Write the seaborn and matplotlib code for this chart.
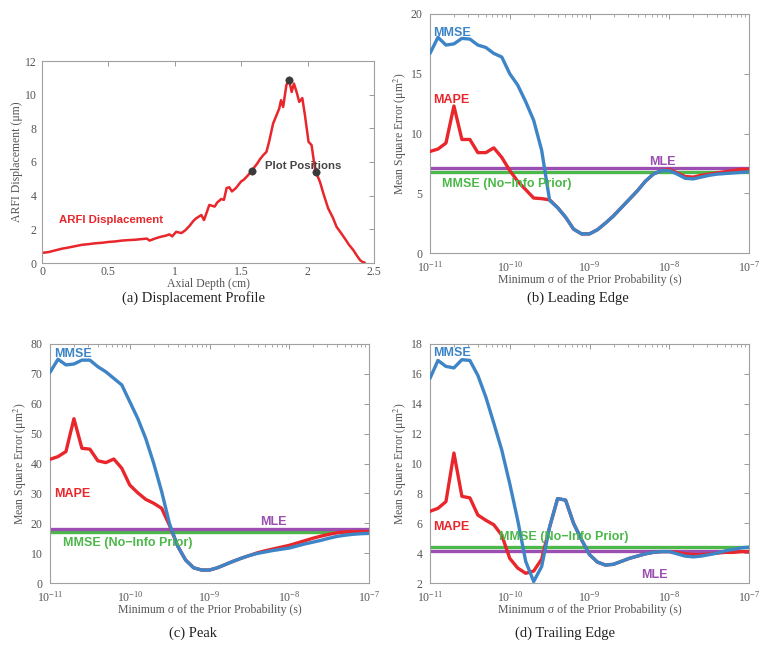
import numpy as np
import pandas as pd
import matplotlib
matplotlib.use("Agg")
import matplotlib.pyplot as plt
import seaborn as sns

# ---------------- data ----------------
# (a) displacement profile
depth_cm = [0.0, 0.05, 0.1, 0.15, 0.2, 0.25, 0.3, 0.35, 0.4, 0.45,
            0.5, 0.55, 0.6, 0.65, 0.7, 0.75, 0.79, 0.81, 0.85, 0.89,
            0.93, 0.96, 0.98, 1.01, 1.05, 1.08, 1.11, 1.14, 1.16, 1.2,
            1.22, 1.24, 1.26, 1.30, 1.32, 1.35, 1.37, 1.39, 1.41, 1.43,
            1.46, 1.50, 1.52, 1.55, 1.58, 1.60, 1.62, 1.64, 1.665, 1.69,
            1.71, 1.74, 1.766, 1.786, 1.80, 1.816, 1.84, 1.86, 1.88, 1.897,
            1.917, 1.937, 1.96, 1.98, 2.007, 2.03, 2.055, 2.063, 2.093, 2.12,
            2.155, 2.19, 2.218, 2.25, 2.28, 2.31, 2.344, 2.37, 2.394, 2.41,
            2.43]
displacement_um = [0.6, 0.65, 0.75, 0.85, 0.92, 1.0, 1.08, 1.12, 1.17, 1.2,
                   1.25, 1.28, 1.33, 1.36, 1.38, 1.42, 1.45, 1.33, 1.45, 1.55,
                   1.62, 1.7, 1.58, 1.85, 1.78, 1.95, 2.2, 2.5, 2.65, 2.85,
                   2.55, 3.0, 3.45, 3.35, 3.6, 3.8, 3.75, 4.45, 4.5, 4.25,
                   4.45, 4.85, 4.95, 5.2, 5.48, 5.7, 5.9, 6.15, 6.4, 6.6,
                   7.2, 8.28, 8.78, 9.17, 9.67, 9.27, 10.56, 10.9, 10.16, 10.66,
                   10.16, 9.57, 9.8, 8.78, 7.2, 7.0, 5.62, 5.4, 4.82, 4.1,
                   3.24, 2.7, 2.15, 1.8, 1.46, 1.1, 0.77, 0.45, 0.18, 0.08,
                   0.02]
plot_pos_depth = [1.583, 1.86, 2.065]
plot_pos_disp = [5.48, 10.9, 5.4]

# sigma grid exponents (10 per decade, 1e-11 .. 1e-7)
sigma_exp = [-11.0 + 0.1 * k for k in range(41)]

# (b) leading edge
lead_mmse = [16.7, 18.05, 17.4, 17.5, 17.96, 17.9, 17.4, 17.2, 16.7, 16.4,
             15.0, 14.05, 12.66, 11.1, 8.6, 4.4, 3.8, 3.0, 2.0, 1.6,
             1.6, 1.95, 2.5, 3.1, 3.8, 4.5, 5.2, 6.0, 6.6, 6.9,
             6.9, 6.6, 6.25, 6.2, 6.35, 6.5, 6.6, 6.65, 6.7, 6.75, 6.8]
lead_mape = [8.5, 8.7, 9.2, 12.3, 9.5, 9.5, 8.4, 8.4, 8.8, 8.0,
             6.9, 6.0, 5.3, 4.6, 4.55, 4.45, 3.8, 3.0, 2.0, 1.6,
             1.6, 1.95, 2.5, 3.1, 3.8, 4.5, 5.2, 6.0, 6.6, 6.9,
             7.0, 6.7, 6.4, 6.35, 6.5, 6.6, 6.7, 6.8, 6.9, 7.0, 7.0]
lead_mle = 7.12
lead_noinfo = 6.8

# (c) peak
peak_mmse = [70.5, 74.9, 73.0, 73.3, 74.6, 74.6, 72.4, 70.7, 68.5, 66.3,
             60.7, 55.1, 48.4, 40.1, 30.6, 19.7, 12.4, 7.7, 5.1, 4.35,
             4.35, 5.1, 6.2, 7.3, 8.3, 9.2, 9.9, 10.4, 10.9, 11.3,
             11.7, 12.4, 13.1, 13.7, 14.3, 15.0, 15.6, 16.0, 16.3, 16.5, 16.6]
peak_mape = [41.4, 42.3, 44.0, 55.0, 45.1, 44.8, 40.9, 40.3, 41.5, 38.4,
             32.8, 30.2, 28.0, 26.7, 25.0, 19.2, 12.4, 7.7, 5.1, 4.35,
             4.35, 5.1, 6.2, 7.3, 8.3, 9.2, 10.1, 10.8, 11.4, 12.0,
             12.6, 13.4, 14.2, 15.0, 15.7, 16.3, 16.8, 17.1, 17.2, 17.2, 17.2]
peak_mle = 18.2
peak_noinfo = 17.0

# (d) trailing edge
trail_mmse = [15.7, 16.9, 16.5, 16.4, 16.95, 16.9, 15.9, 14.45, 12.7, 10.9,
              8.65, 6.2, 3.45, 2.1, 3.1, 5.75, 7.65, 7.55, 6.0, 4.9,
              3.9, 3.4, 3.2, 3.25, 3.45, 3.65, 3.8, 3.95, 4.05, 4.1,
              4.1, 3.95, 3.8, 3.75, 3.8, 3.9, 4.0, 4.15, 4.25, 4.35, 4.4]
trail_mape = [6.8, 7.0, 7.45, 10.7, 7.8, 7.7, 6.55, 6.2, 5.9, 5.2,
              3.65, 3.0, 2.65, 2.8, 3.6, 5.75, 7.65, 7.55, 6.0, 4.9,
              3.9, 3.4, 3.2, 3.25, 3.45, 3.65, 3.8, 3.95, 4.05, 4.1,
              4.1, 4.05, 3.95, 3.9, 3.9, 3.95, 4.0, 4.05, 4.05, 4.1, 4.1]
trail_mle = 4.16
trail_noinfo = 4.41

# ---------------- style ----------------
sns.set_style("white")
plt.rcParams['font.family'] = ['Liberation Serif', 'DejaVu Serif']
plt.rcParams['mathtext.fontset'] = 'stix'

BLUE = '#3d85c6'
RED = '#e8262b'
PURPLE = '#9b4fb3'
GREEN = '#4cb84a'
DOT = '#3a3a3a'
TXT = '#555555'
SPINE = '#a0a0a0'
SANS = ['Liberation Sans', 'DejaVu Sans']

W, H = 761, 646
fig = plt.figure(figsize=(W / 100, H / 100), dpi=100)


def px_axes(l, t, r, b):
    return fig.add_axes([l / W, 1 - b / H, (r - l) / W, (b - t) / H])


def style_axes(ax, size=9):
    for s in ax.spines.values():
        s.set_color(SPINE)
        s.set_linewidth(0.8)
    ax.tick_params(which='major', direction='in', top=True, right=True,
                   length=3.5, width=0.6, color='#888888',
                   labelcolor=TXT, labelsize=size, pad=4)
    ax.tick_params(which='minor', direction='in', top=True, right=True,
                   length=1.8, width=0.5, color='#888888')


# ---------- (a) ----------
axa = px_axes(42, 61, 374, 263)
dfa = pd.DataFrame({'depth': depth_cm, 'disp': displacement_um})
sns.lineplot(data=dfa, x='depth', y='disp', ax=axa, color=RED, lw=1.8,
             estimator=None, sort=False)
sns.scatterplot(x=plot_pos_depth, y=plot_pos_disp, ax=axa, color=DOT, s=28,
                edgecolor=DOT, zorder=5)
axa.set_xlim(0, 2.5)
axa.set_ylim(0, 12)
axa.set_xticks([0, 0.5, 1, 1.5, 2, 2.5])
axa.set_xticklabels(['0', '0.5', '1', '1.5', '2', '2.5'])
axa.set_yticks([0, 2, 4, 6, 8, 10, 12])
style_axes(axa, size=8.5)
axa.tick_params(axis='x', pad=2)
axa.set_xlabel('Axial Depth (cm)', fontsize=8.5, color=TXT, labelpad=0)
axa.set_ylabel('ARFI Displacement (μm)', fontsize=8.5, color=TXT, labelpad=1)
axa.text(0.13, 2.55, 'ARFI Displacement', color=RED, fontsize=8.2,
         fontweight='bold', family=SANS, va='center', ha='left')
axa.text(1.68, 5.75, 'Plot Positions', color='#444444', fontsize=8.2,
         fontweight='bold', family=SANS, va='center', ha='left')


def mse_panel(ax, mmse, mape, mle, noinfo, ylim, yticks, labels):
    xs = [10 ** e for e in sigma_exp]
    df = pd.DataFrame({'sigma': xs * 2,
                       'mse': list(mape) + list(mmse),
                       'method': ['MAPE'] * len(xs) + ['MMSE'] * len(xs)})
    ax.axhline(noinfo, color=GREEN, lw=2.4, zorder=1)
    ax.axhline(mle, color=PURPLE, lw=2.4, zorder=1)
    sns.lineplot(data=df, x='sigma', y='mse', hue='method',
                 palette={'MAPE': RED, 'MMSE': BLUE}, hue_order=['MAPE', 'MMSE'],
                 lw=2.4, estimator=None, sort=False, ax=ax, legend=False,
                 zorder=3)
    ax.set_xscale('log')
    ax.set_xlim(1e-11, 1e-7)
    ax.set_ylim(*ylim)
    ax.set_yticks(yticks)
    ax.set_xticks([1e-11, 1e-10, 1e-9, 1e-8, 1e-7])
    style_axes(ax, size=8.5)
    ax.tick_params(axis='x', pad=5)
    ax.tick_params(axis='y', pad=5.5)
    ax.set_xlabel('Minimum σ of the Prior Probability (s)', fontsize=8.5,
                  color=TXT, labelpad=-0.5)
    ax.set_ylabel('Mean Square Error (μm$^2$)', fontsize=8.5, color=TXT,
                  labelpad=1)
    colors = {'MMSE': BLUE, 'MAPE': RED, 'MLE': PURPLE, 'NOINFO': GREEN}
    texts = {'MMSE': 'MMSE', 'MAPE': 'MAPE', 'MLE': 'MLE',
             'NOINFO': 'MMSE (No\u2212Info Prior)'}
    for key, (xe, yv) in labels.items():
        ax.text(10 ** xe, yv, texts[key], color=colors[key], fontsize=9,
                fontweight='bold', family=SANS, va='center', ha='left',
                zorder=6)


axb = px_axes(430, 14, 749, 253)
mse_panel(axb, lead_mmse, lead_mape, lead_mle, lead_noinfo, (0, 20),
          [0, 5, 10, 15, 20],
          {'MMSE': (-10.96, 18.45), 'MAPE': (-10.955, 12.8),
           'MLE': (-8.255, 7.6), 'NOINFO': (-10.853, 5.77)})

axc = px_axes(50, 344, 369, 583)
mse_panel(axc, peak_mmse, peak_mape, peak_mle, peak_noinfo, (0, 80),
          list(range(0, 81, 10)),
          {'MMSE': (-10.95, 76.6), 'MAPE': (-10.95, 29.8),
           'MLE': (-8.37, 20.5), 'NOINFO': (-10.84, 13.3)})

axd = px_axes(430, 344, 749, 583)
mse_panel(axd, trail_mmse, trail_mape, trail_mle, trail_noinfo, (2, 18),
          list(range(2, 19, 2)),
          {'MMSE': (-10.96, 17.4), 'MAPE': (-10.965, 5.73),
           'MLE': (-8.35, 2.55), 'NOINFO': (-10.13, 5.06)})

# captions
cap_kw = dict(fontsize=10.5, color='#222222', ha='center', va='center')
fig.text(193 / W, 1 - 298 / H, '(a) Displacement Profile', **cap_kw)
fig.text(578 / W, 1 - 298 / H, '(b) Leading Edge', **cap_kw)
fig.text(193 / W, 1 - 633 / H, '(c) Peak', **cap_kw)
fig.text(565 / W, 1 - 633 / H, '(d) Trailing Edge', **cap_kw)

fig.savefig('out.png', dpi=100)
